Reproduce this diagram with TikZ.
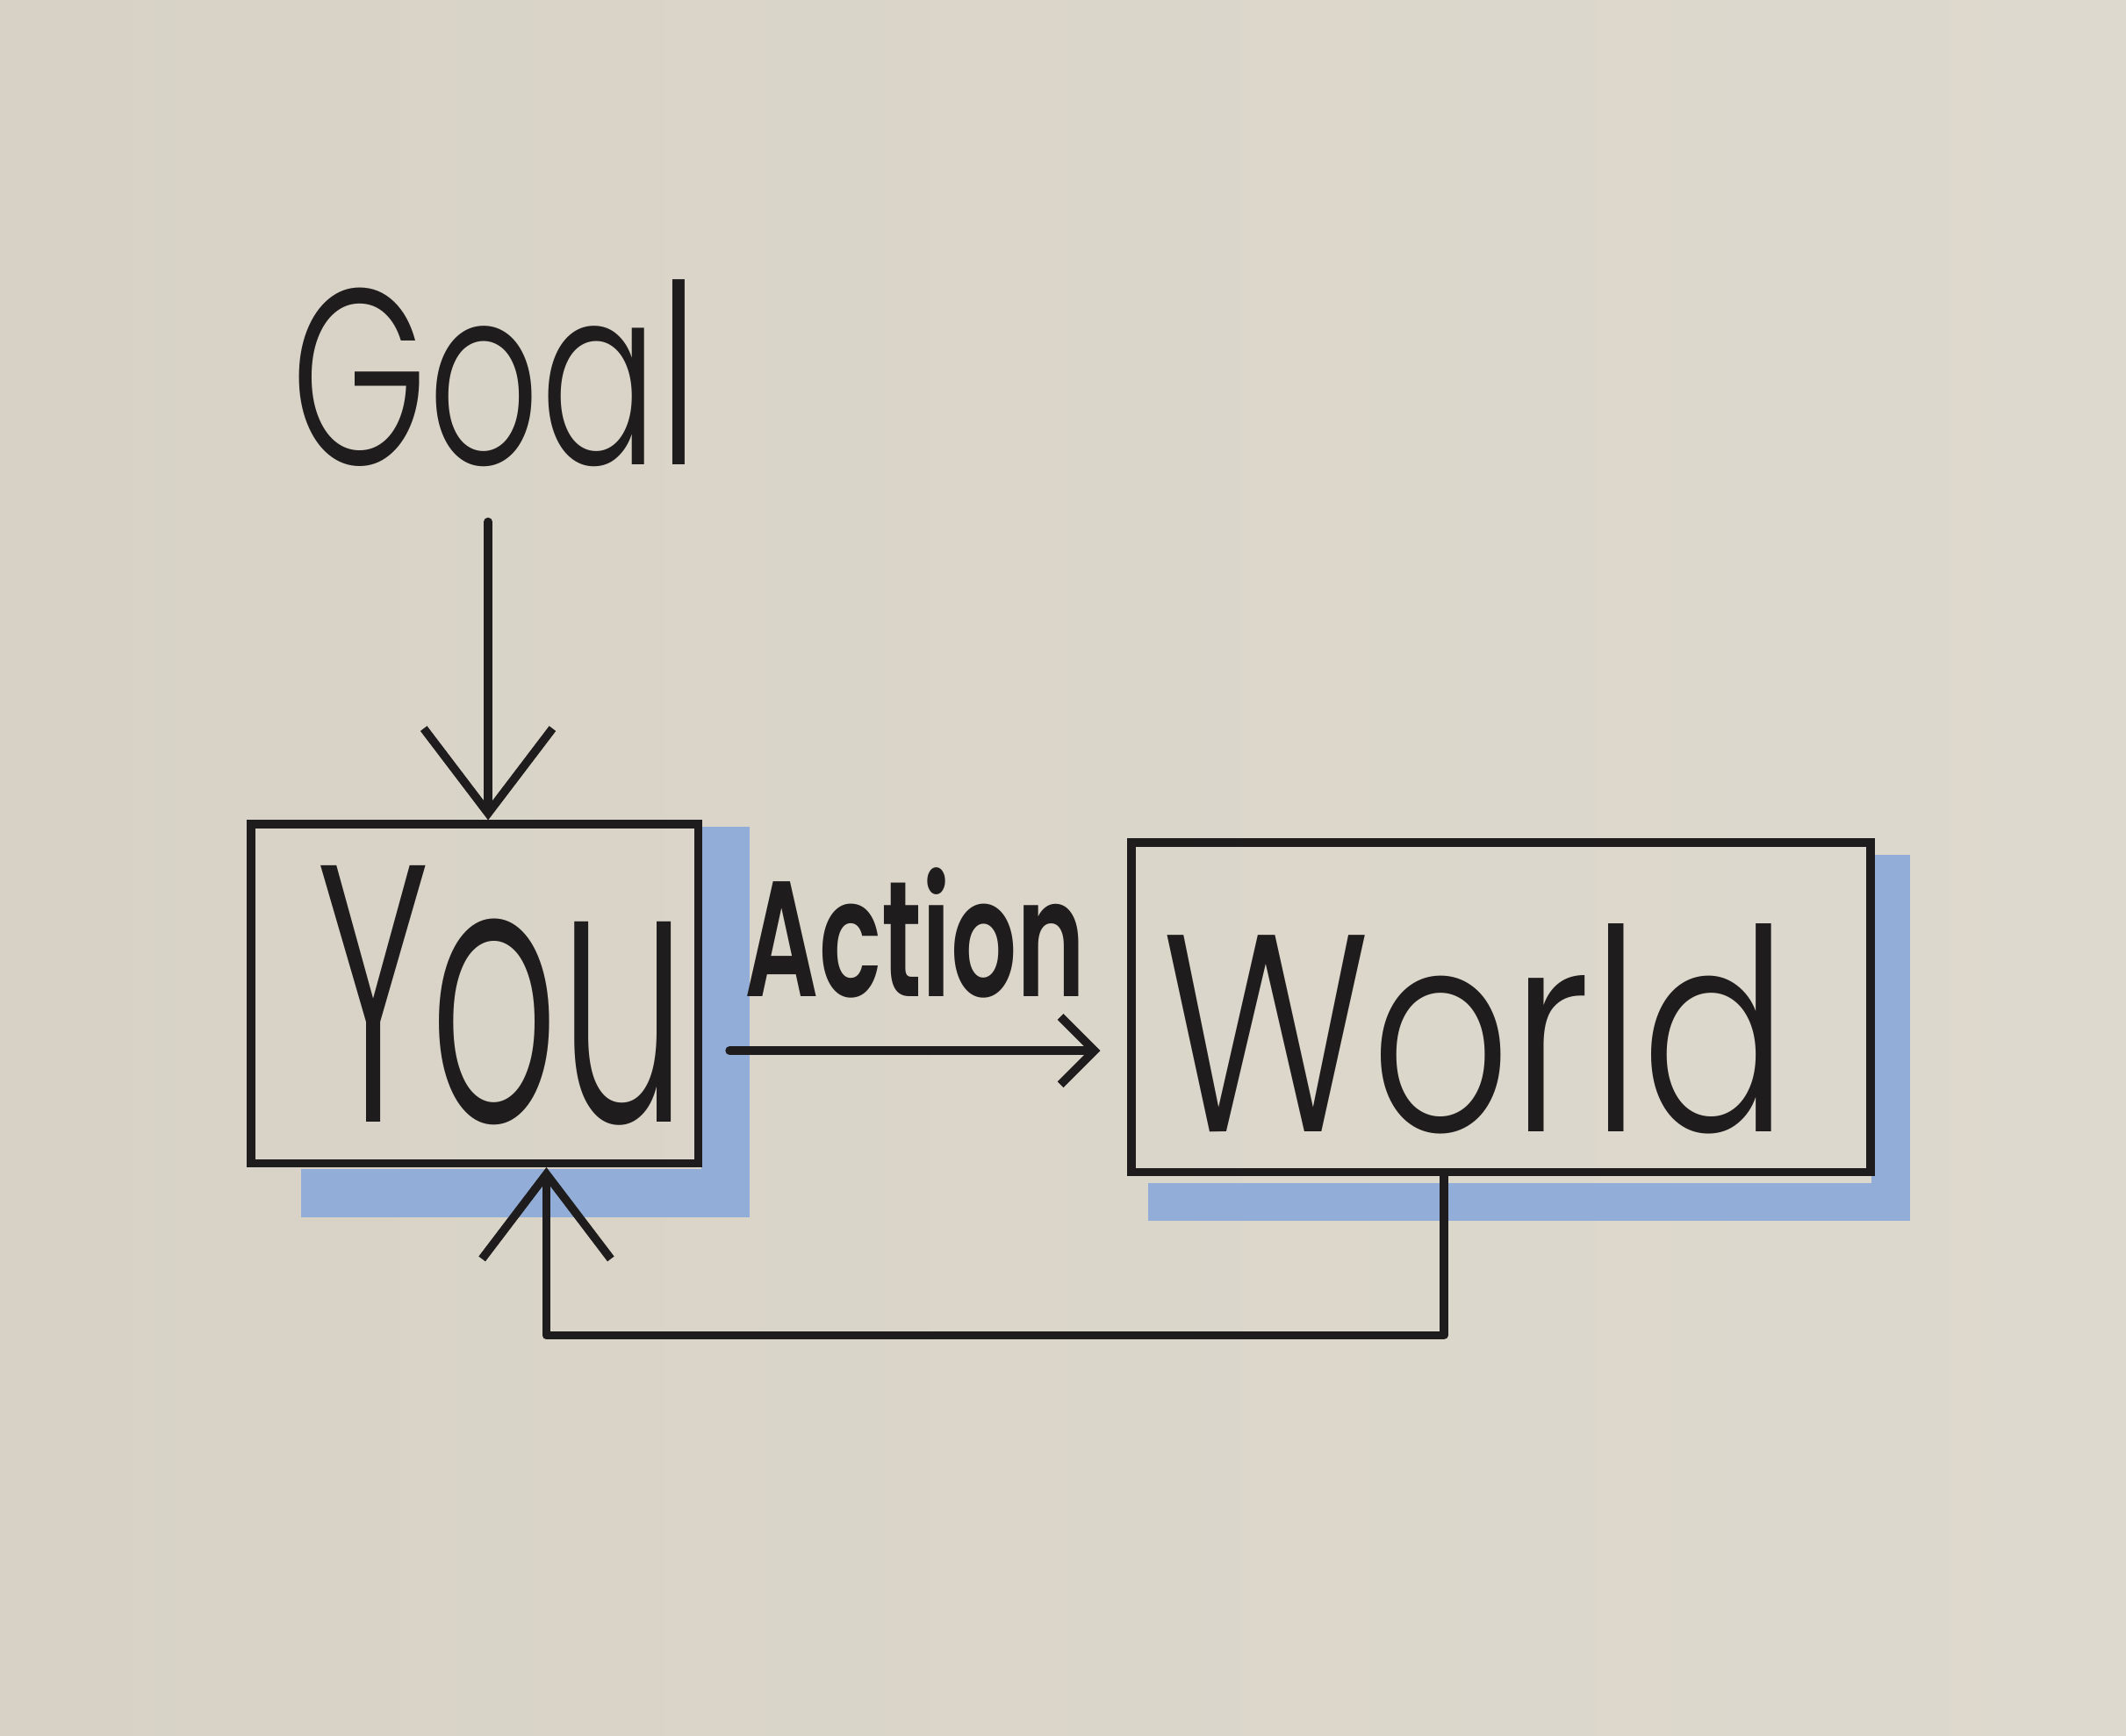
\documentclass[tikz,border=0pt]{standalone}
\usepackage{fontspec}
\usetikzlibrary{arrows.meta,calc,backgrounds}
\newfontfamily\hand{Poppins Light}
\newfontfamily\handb{Poppins SemiBold}
\definecolor{paper}{HTML}{D8D2C6}
\definecolor{paperR}{HTML}{DED9CE}
\definecolor{ink}{HTML}{1E1C1C}
\definecolor{marker}{HTML}{92AED8}
\tikzset{
  boxnode/.style={draw=ink, line width=3.5pt, inner sep=0pt},
  wire/.style={draw=ink, line width=3.5pt, line cap=round, line join=round},
  bigbarb/.style={-{Straight Barb[length=1.25cm, width=1.9cm, line width=3.5pt]}},
  smallbarb/.style={-{Straight Barb[length=0.5cm, width=1cm, line width=3.5pt]}},
  shade/.style={draw=marker, line width=20pt, line cap=butt, line join=miter},
  label/.style={text=ink, inner sep=0pt, anchor=base}
}
\begin{document}
\begin{tikzpicture}[x=0.02cm, y=-0.02cm]
\useasboundingbox (0,0) rectangle (1568,1280);

% boxes
\node[boxnode, minimum width=6.6cm, minimum height=5cm] (You) at (350,733) {};
\node[boxnode, minimum width=10.9cm, minimum height=4.86cm] (World) at (1107,743) {};

% texts
\node[label] (Goal) at (365,343) {\fontsize{105}{110}\hand\scalebox{0.7}[1]{Goal}};
\node[label] (YouT) at (370,828) {\fontsize{154}{160}\hand\scalebox{0.55}[1]{You}};
\node[label] (WorldT) at (1088,835) {\fontsize{118}{120}\hand\scalebox{0.78}[1]{World}};
\node[label] (Action) at (675,735) {\fontsize{69}{72}\handb\scalebox{0.63}[1]{Action}};

% helper coordinates
\coordinate (gx) at (360,0);
\coordinate (ax) at (0,775);
\coordinate (wx) at (1065,0);
\coordinate (corner) at (403,985);

% background and marker shadows
\begin{scope}[on background layer]
  \shade[left color=paper, right color=paperR, draw=none] (0,0) rectangle (1568,1280);
  \draw[shade] ($(You.north east)+(17,5)$) -- ($(You.south east)+(17,19)$) -- ($(You.south west)+(40,19)$);
  \draw[shade, line width=16pt] ($(World.north east)+(12,12)$) -- ($(World.south east)+(12,19)$) -- ($(World.south west)+(15,19)$);
\end{scope}

% connectors
\draw[wire, bigbarb, shorten <=0.8cm] (Goal.south -| gx) -- (You.north -| gx);
\draw[wire, smallbarb, shorten <=0.4cm, shorten >=0.4cm] (You.east |- ax) -- (World.west |- ax);
\draw[wire, bigbarb] (World.south -| wx) |- (corner) -- (You.south -| corner);
\end{tikzpicture}
\end{document}
